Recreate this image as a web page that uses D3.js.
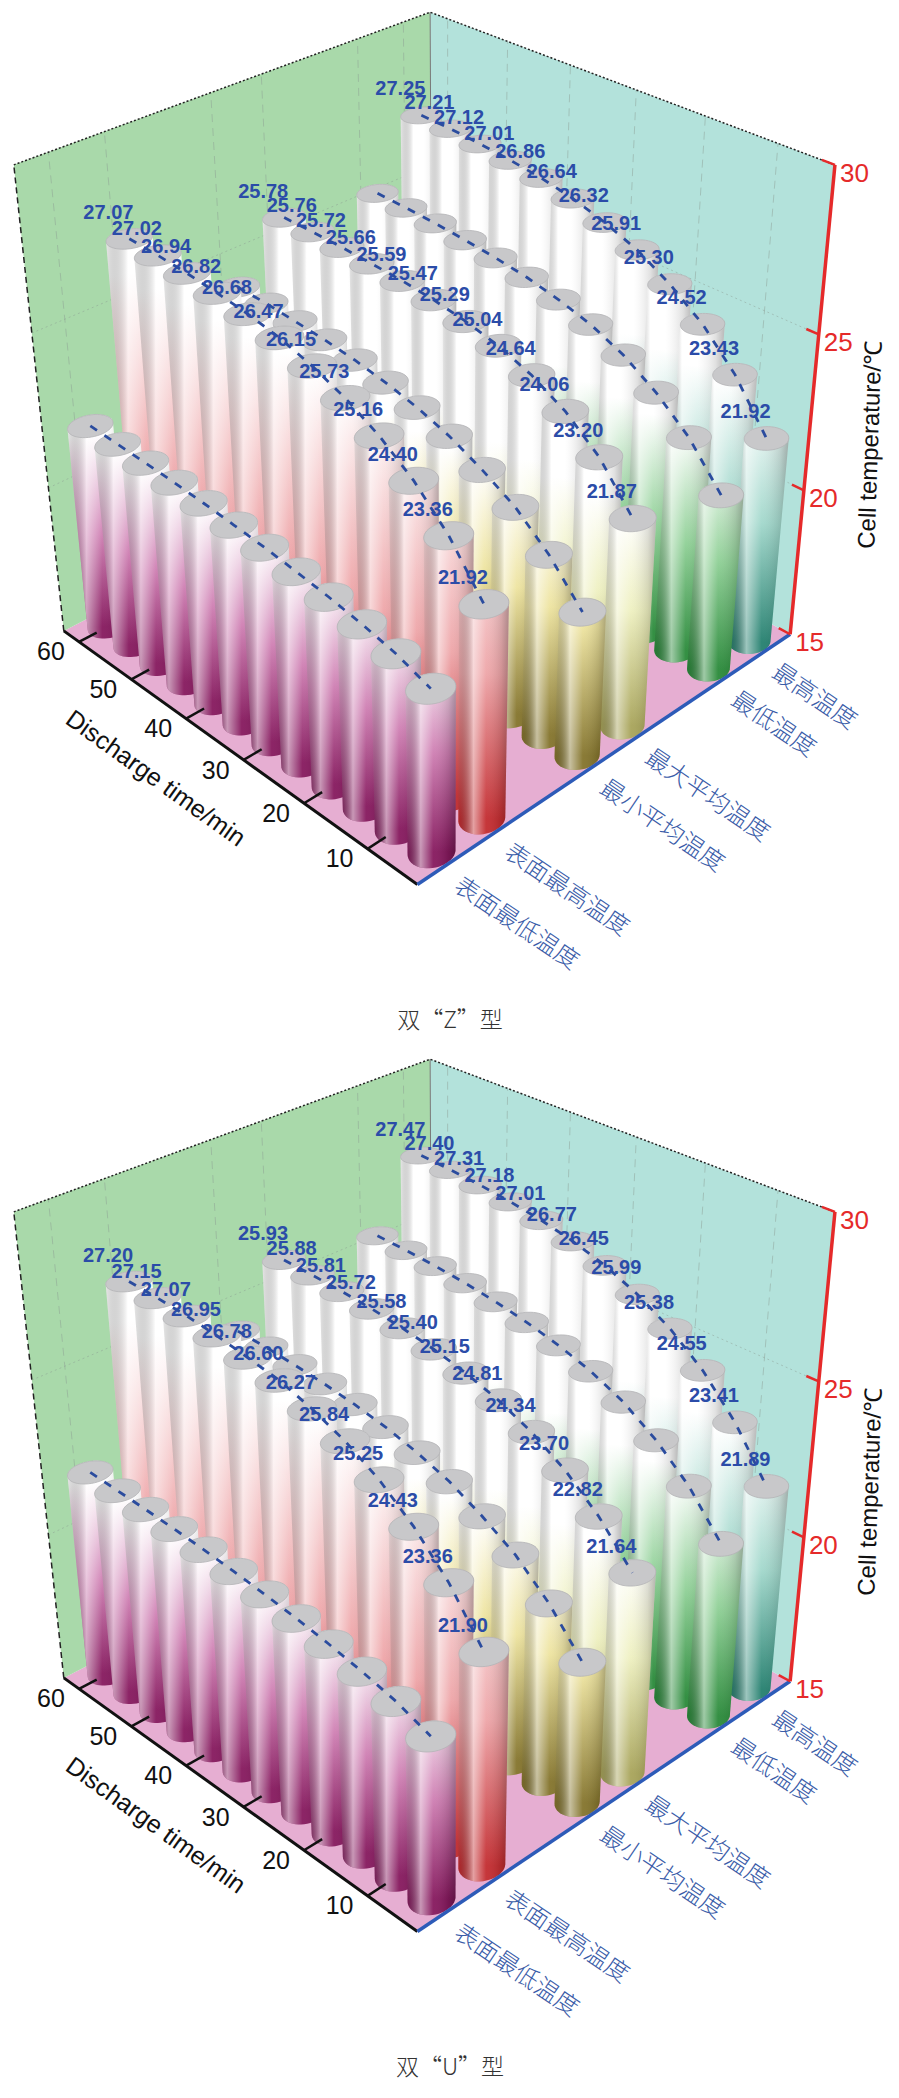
<!DOCTYPE html>
<html>
<head>
<meta charset="utf-8">
<script src="https://cdn.jsdelivr.net/npm/d3@7"></script>
<style>
  body { margin: 0; background: #fff; }
  svg { display: block; }
</style>
</head>
<body>
<svg id="chart"></svg>
<script>
let width = 899, height = 2098;

// ---- data ----
const times = [60, 55, 50, 45, 40, 35, 30, 25, 20, 15, 10, 5];
const series = ["表面最低温度", "表面最高温度", "最小平均温度", "最大平均温度", "最低温度", "最高温度"];
const seriesPos = [0, 1, 3, 4, 6, 7];
const labeled = [false, true, false, true, false, true];
const xTicks = [10, 20, 30, 40, 50, 60];
const zTicks = [15, 20, 25, 30];
const captions = ["双“Z”型", "双“U”型"];

// 双Z
const zSurfMin = [21.90, 21.85, 21.80, 21.74, 21.66, 21.56, 21.45, 21.31, 21.15, 20.95, 20.70, 20.30];
const zSurfMax = [27.07, 27.02, 26.94, 26.82, 26.68, 26.47, 26.15, 25.73, 25.16, 24.40, 23.36, 21.92];
const zMinAvg  = [24.20, 24.15, 24.06, 23.96, 23.82, 23.62, 23.36, 23.00, 22.50, 21.90, 21.00, 19.80];
const zMaxAvg  = [25.78, 25.76, 25.72, 25.66, 25.59, 25.47, 25.29, 25.04, 24.64, 24.06, 23.20, 21.87];
const zMin     = [25.30, 25.25, 25.18, 25.08, 24.96, 24.80, 24.56, 24.25, 23.78, 23.10, 22.20, 20.90];
const zMax     = [27.25, 27.21, 27.12, 27.01, 26.86, 26.64, 26.32, 25.91, 25.30, 24.52, 23.43, 21.92];
// 双U
const uSurfMin = [21.92, 21.87, 21.82, 21.76, 21.68, 21.58, 21.46, 21.32, 21.15, 20.94, 20.68, 20.28];
const uSurfMax = [27.20, 27.15, 27.07, 26.95, 26.78, 26.60, 26.27, 25.84, 25.25, 24.43, 23.36, 21.90];
const uMinAvg  = [24.30, 24.25, 24.16, 24.05, 23.90, 23.70, 23.42, 23.05, 22.52, 21.88, 20.95, 19.70];
const uMaxAvg  = [25.93, 25.88, 25.81, 25.72, 25.58, 25.40, 25.15, 24.81, 24.34, 23.70, 22.82, 21.64];
const uMin     = [25.45, 25.40, 25.32, 25.21, 25.06, 24.86, 24.60, 24.26, 23.78, 23.08, 22.15, 20.85];
const uMax     = [27.47, 27.40, 27.31, 27.18, 27.01, 26.77, 26.45, 25.99, 25.38, 24.55, 23.41, 21.89];

const panels = [
  [zSurfMin, zSurfMax, zMinAvg, zMaxAvg, zMin, zMax],
  [uSurfMin, uSurfMax, uMinAvg, uMaxAvg, uMin, uMax]
];

// row colours: colour at the floor, middle colour, temperature of middle colour, temperature where it turns white
const rowColors = [
  ["#86195e", "#cf7fb3", 18.2, 21.6],
  ["#c32c30", "#eea5a8", 19.5, 26.0],
  ["#84742c", "#eee4a0", 19.2, 22.6],
  ["#a8a45a", "#eef0c0", 18.8, 22.0],
  ["#2a8a3a", "#8fd096", 18.6, 22.4],
  ["#25806f", "#a2d8cc", 19.0, 23.2]
];

// ---- scales ----
let xS = d3.scaleLinear().domain([2.5, 63]).range([0, 1]);
let yS = d3.scaleLinear().domain([-0.6, 7.6]).range([0, 1]);
let zS = d3.scaleLinear().domain([15, 30]).range([0, 1]);

// calibration of the 3-D frame against the picture (frame corners and ticks)
const calib = [
  [2.5, -0.6, 15, 413, 883], [63, -0.6, 15, 62, 628], [2.5, 7.6, 15, 789, 637],
  [2.5, 7.6, 30, 835, 166], [63, -0.6, 30, 13, 165], [63, 7.6, 30, 430, 13],
  [10, -0.6, 15, 370, 849], [30, -0.6, 15, 247, 764], [60, -0.6, 15, 80, 642],
  [2.5, 7.6, 20, 804, 487], [2.5, 7.6, 25, 820, 333]
];

const solve = (M, r) => {
  let n = r.length;
  let A = M.map((row, i) => row.concat([r[i]]));
  for (let c = 0; c < n; c++) {
    let p = c;
    for (let i = c + 1; i < n; i++) if (Math.abs(A[i][c]) > Math.abs(A[p][c])) p = i;
    [A[c], A[p]] = [A[p], A[c]];
    for (let i = 0; i < n; i++) {
      if (i === c) continue;
      let f = A[i][c] / A[c][c];
      for (let j = c; j <= n; j++) A[i][j] -= f * A[c][j];
    }
  }
  return A.map((row, i) => row[n] / row[i]);
};

const fit = () => {
  let rows = [], b = [];
  calib.forEach(([x, y, z, u, v]) => {
    let X = xS(x), Y = yS(y), Z = zS(z);
    u /= 1000; v /= 1000;
    rows.push([X, Y, Z, 1, 0, 0, 0, 0, -u * X, -u * Y, -u * Z]); b.push(u);
    rows.push([0, 0, 0, 0, X, Y, Z, 1, -v * X, -v * Y, -v * Z]); b.push(v);
  });
  let M = d3.range(11).map(i => d3.range(11).map(j => d3.sum(rows, r => r[i] * r[j])));
  let r = d3.range(11).map(i => d3.sum(rows, (row, k) => row[i] * b[k]));
  return solve(M, r);
};
const P = fit();

const projN = (X, Y, Z, dy) => {
  let w = P[8] * X + P[9] * Y + P[10] * Z + 1;
  return [1000 * (P[0] * X + P[1] * Y + P[2] * Z + P[3]) / w,
          1000 * (P[4] * X + P[5] * Y + P[6] * Z + P[7]) / w + dy, w];
};
const proj = (x, y, z, dy) => projN(xS(x), yS(y), zS(z), dy);

let svg = d3.select("#chart").attr("width", width).attr("height", height);
svg.append("rect").attr("width", width).attr("height", height).attr("fill", "#fff");
let defs = svg.append("defs");

let shade = defs.append("linearGradient").attr("id", "shade");
[[0, "#000", 0.10], [0.3, "#fff", 0.55], [0.55, "#fff", 0.05], [0.85, "#000", 0.12], [1, "#000", 0.28]]
  .forEach(([o, c, a]) => shade.append("stop").attr("offset", o).attr("stop-color", c).attr("stop-opacity", a));

const line = d3.line();
const rX = 2.3, rY = 0.36;
const angles = d3.range(0, 2 * Math.PI, Math.PI / 24);

const drawPanel = (pi) => {
  let dy = pi * 1047;
  let vals = panels[pi];
  let g = svg.append("g");
  let pt = (x, y, z) => proj(x, y, z, dy).slice(0, 2);

  // floor and walls
  g.append("path").attr("fill", "#e6aed2")
    .attr("d", line([pt(2.5, -0.6, 15), pt(63, -0.6, 15), pt(63, 7.6, 15), pt(2.5, 7.6, 15)]) + "Z");
  g.append("path").attr("fill", "#a9d9aa")
    .attr("d", line([pt(63, -0.6, 15), pt(63, -0.6, 30), pt(63, 7.6, 30), pt(63, 7.6, 15)]) + "Z");
  g.append("path").attr("fill", "#b3e2db")
    .attr("d", line([pt(63, 7.6, 15), pt(63, 7.6, 30), pt(2.5, 7.6, 30), pt(2.5, 7.6, 15)]) + "Z");

  // faint grid
  let grid = g.append("g").attr("stroke", "#8a9a90").attr("stroke-opacity", 0.45)
    .attr("stroke-width", 1).attr("stroke-dasharray", "8,6").attr("fill", "none");
  seriesPos.forEach(y => grid.append("path").attr("d", line([pt(63, y, 15), pt(63, y, 30)])));
  xTicks.forEach(x => grid.append("path").attr("d", line([pt(x, 7.6, 15), pt(x, 7.6, 30)])));
  [20, 25].forEach(z => grid.append("path").attr("stroke-dasharray", "2,3")
    .attr("d", line([pt(63, -0.6, z), pt(63, 7.6, z), pt(2.5, 7.6, z)])));
  g.append("path").attr("stroke", "#777").attr("fill", "none")
    .attr("d", line([pt(63, 7.6, 15), pt(63, 7.6, 30)]));
  g.append("path").attr("stroke", "#222").attr("stroke-width", 1.5).attr("fill", "none")
    .attr("stroke-dasharray", "2,2")
    .attr("d", line([pt(63, -0.6, 30), pt(63, 7.6, 30), pt(2.5, 7.6, 30)]));
  g.append("path").attr("stroke", "#222").attr("stroke-width", 1.5).attr("fill", "none")
    .attr("stroke-dasharray", "6,4")
    .attr("d", line([pt(63, -0.6, 15), pt(63, -0.6, 30)]));

  // bars, far to near
  let bars = [];
  vals.forEach((arr, si) => arr.forEach((v, ti) => {
    bars.push({ si, ti, x: times[ti], y: seriesPos[si], v, depth: proj(times[ti], seriesPos[si], 15, dy)[2] });
  }));
  bars.sort((a, b) => b.depth - a.depth);

  bars.forEach((d, k) => {
    let X = xS(d.x), Y = yS(d.y);
    let ring = (z) => angles.map(a => projN(
      X + (xS(rX) - xS(0)) * Math.cos(a), Y + (yS(rY) - yS(0)) * Math.sin(a), zS(z), dy).slice(0, 2));
    let bottom = ring(15), top = ring(d.v);
    let hull = d3.polygonHull(bottom.concat(top));
    let [c0, c1, zm, zw] = rowColors[d.si];
    let gid = "g" + pi + "_" + k;
    let p0 = pt(d.x, d.y, 15), p1 = pt(d.x, d.y, zw);
    let lg = defs.append("linearGradient").attr("id", gid).attr("gradientUnits", "userSpaceOnUse")
      .attr("x1", p0[0]).attr("y1", p0[1]).attr("x2", p1[0]).attr("y2", p1[1]);
    lg.append("stop").attr("offset", 0).attr("stop-color", c0);
    lg.append("stop").attr("offset", (zm - 15) / (zw - 15)).attr("stop-color", c1);
    lg.append("stop").attr("offset", 1).attr("stop-color", "#fff");
    g.append("path").attr("d", line(hull) + "Z").attr("fill", "url(#" + gid + ")");
    g.append("path").attr("d", line(hull) + "Z").attr("fill", "url(#shade)");
    g.append("path").attr("d", line(top) + "Z").attr("fill", "#c8c8ca")
      .attr("stroke", "#b4b4b6").attr("stroke-width", 0.8);
  });

  // dashed lines through the bar tops
  vals.forEach((arr, si) => {
    g.append("path").attr("fill", "none").attr("stroke", "#2b4c9e").attr("stroke-width", 2.8)
      .attr("stroke-dasharray", "8,9")
      .attr("d", line(arr.map((v, ti) => pt(times[ti], seriesPos[si], v))));
  });

  // value labels
  vals.forEach((arr, si) => {
    if (!labeled[si]) return;
    arr.forEach((v, ti) => {
      let p = pt(times[ti], seriesPos[si], v);
      g.append("text").attr("x", p[0] - 46).attr("y", p[1] - 20)
        .attr("font-family", "Liberation Sans, Arial, sans-serif").attr("font-size", 20)
        .attr("font-weight", "bold").attr("fill", "#2b4ca8").text(v.toFixed(2));
    });
  });

  // x axis
  g.append("path").attr("stroke", "#111").attr("stroke-width", 3).attr("fill", "none")
    .attr("d", line([pt(2.5, -0.6, 15), pt(63, -0.6, 15)]));
  xTicks.forEach(x => {
    g.append("path").attr("stroke", "#111").attr("stroke-width", 2.5)
      .attr("d", line([pt(x, -0.6, 15), pt(x, -0.25, 15)]));
    let p = pt(x, -0.6, 15);
    g.append("text").attr("x", p[0] - 28).attr("y", p[1] + 12)
      .attr("text-anchor", "middle").attr("dominant-baseline", "middle")
      .attr("font-family", "Liberation Sans, Arial, sans-serif").attr("font-size", 25)
      .attr("fill", "#111").text(x);
  });
  let a0 = pt(63, -0.6, 15), a1 = pt(2.5, -0.6, 15);
  let ang = Math.atan2(a1[1] - a0[1], a1[0] - a0[0]) * 180 / Math.PI;
  let tc = pt(36, -0.6, 15);
  g.append("text").attr("transform", `translate(${tc[0] - 58},${tc[1] + 50}) rotate(${ang})`)
    .attr("text-anchor", "middle").attr("font-family", "Liberation Sans, Arial, sans-serif")
    .attr("font-size", 25).attr("fill", "#111").text("Discharge time/min");

  // y axis (categories)
  g.append("path").attr("stroke", "#2d5bb8").attr("stroke-width", 3.5).attr("fill", "none")
    .attr("d", line([pt(2.5, -0.6, 15), pt(2.5, 7.6, 15)]));
  series.forEach((s, si) => {
    let p = pt(2.5, seriesPos[si], 15);
    g.append("text").attr("transform", `translate(${p[0] + 4},${p[1] + 26}) rotate(34)`)
      .attr("font-family", "Noto Sans CJK SC, sans-serif").attr("font-weight", 300)
      .attr("font-size", 24).attr("fill", "#3a5ca8").text(s);
  });

  // z axis
  g.append("path").attr("stroke", "#e52a2a").attr("stroke-width", 3.5).attr("fill", "none")
    .attr("d", line([pt(2.5, 7.6, 15), pt(2.5, 7.6, 30)]));
  zTicks.forEach(z => {
    g.append("path").attr("stroke", "#e52a2a").attr("stroke-width", 2.5)
      .attr("d", line([pt(2.5, 7.6, z), pt(4.2, 7.6, z)]));
    let p = pt(2.5, 7.6, z);
    g.append("text").attr("x", p[0] + 5).attr("y", p[1] + 10).attr("dominant-baseline", "middle")
      .attr("font-family", "Liberation Sans, Arial, sans-serif").attr("font-size", 26)
      .attr("fill", "#e52a2a").text(z);
  });
  g.append("text").attr("transform", `translate(878,${445 + dy}) rotate(-88)`)
    .attr("text-anchor", "middle").attr("font-family", "Liberation Sans, Arial, sans-serif")
    .attr("font-size", 24).attr("fill", "#111").text("Cell temperature/℃");

  g.append("text").attr("x", 450).attr("y", 1028 + dy).attr("text-anchor", "middle")
    .attr("font-family", "Noto Sans CJK SC, sans-serif").attr("font-weight", 300)
    .attr("font-size", 23).attr("fill", "#333").text(captions[pi]);
};

drawPanel(0);
drawPanel(1);
</script>
</body>
</html>
